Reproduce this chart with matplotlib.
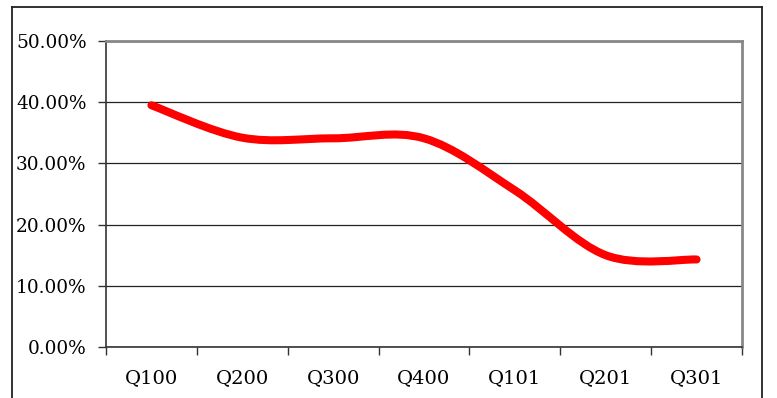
import numpy as np
import matplotlib.pyplot as plt
from matplotlib.path import Path
from matplotlib.patches import PathPatch
from matplotlib.lines import Line2D
from matplotlib.ticker import FixedLocator, PercentFormatter

quarters = ['Q100', 'Q200', 'Q300', 'Q400', 'Q101', 'Q201', 'Q301']
share = [0.395, 0.342, 0.341, 0.341, 0.256, 0.150, 0.143]
y_ticks = [0.0, 0.1, 0.2, 0.3, 0.4, 0.5]

plt.rcParams['font.family'] = ['DejaVu Serif']


def smooth_path(xs, ys):
    # bezier segments like a spreadsheet "smoothed line"
    pts = np.column_stack([xs, ys])
    ext = np.vstack([pts[0], pts, pts[-1]])
    verts = [tuple(pts[0])]
    codes = [Path.MOVETO]
    for i in range(len(pts) - 1):
        p0, p1, p2, p3 = ext[i], ext[i + 1], ext[i + 2], ext[i + 3]
        c1 = p1 + (p2 - p0) / 6
        c2 = p2 - (p3 - p1) / 6
        verts += [tuple(c1), tuple(c2), tuple(p2)]
        codes += [Path.CURVE4] * 3
    return Path(verts, codes)


fig = plt.figure(figsize=(7.77, 3.98), dpi=100)
ax = fig.add_axes([106 / 777, 51 / 398, 636 / 777, 306 / 398])

x = np.arange(len(quarters))
ax.add_patch(PathPatch(smooth_path(x, share), facecolor='none', edgecolor='#ff0000',
                       lw=5.8, capstyle='round', joinstyle='round', zorder=3))

ax.set_xlim(-0.5, len(quarters) - 0.5)
ax.set_ylim(0, 0.5)

ax.set_yticks(y_ticks)
ax.yaxis.set_major_formatter(PercentFormatter(1.0, decimals=2))
ax.grid(axis='y', color='#222222', lw=0.9)
ax.set_axisbelow(True)

# ticks between categories, labels under each category
ax.xaxis.set_major_locator(FixedLocator(np.arange(len(quarters) + 1) - 0.5))
ax.xaxis.set_minor_locator(FixedLocator(x))
ax.set_xticklabels([])
ax.set_xticklabels(quarters, minor=True)
ax.tick_params(axis='x', which='major', length=6, width=1, color='#333333', direction='out')
ax.tick_params(axis='x', which='minor', length=0, pad=16, labelsize=14)
ax.tick_params(axis='y', length=6, width=1, color='#333333', pad=8, labelsize=13.3)

for side in ('left', 'bottom'):
    ax.spines[side].set_color('#333333')
    ax.spines[side].set_linewidth(1.2)
for side in ('top', 'right'):
    ax.spines[side].set_color('#888888')
    ax.spines[side].set_linewidth(2)

# outer chart frame, cut off at the bottom
H = 398
W = 777
frame = dict(color='#222222', lw=1.3, transform=fig.transFigure)
fig.add_artist(Line2D([12 / W, 12 / W], [0, (H - 7) / H], **frame))
fig.add_artist(Line2D([12 / W, 762 / W], [(H - 7) / H, (H - 7) / H], **frame))
fig.add_artist(Line2D([762 / W, 762 / W], [0, (H - 7) / H], **frame))

fig.savefig('out.png', dpi=100)
